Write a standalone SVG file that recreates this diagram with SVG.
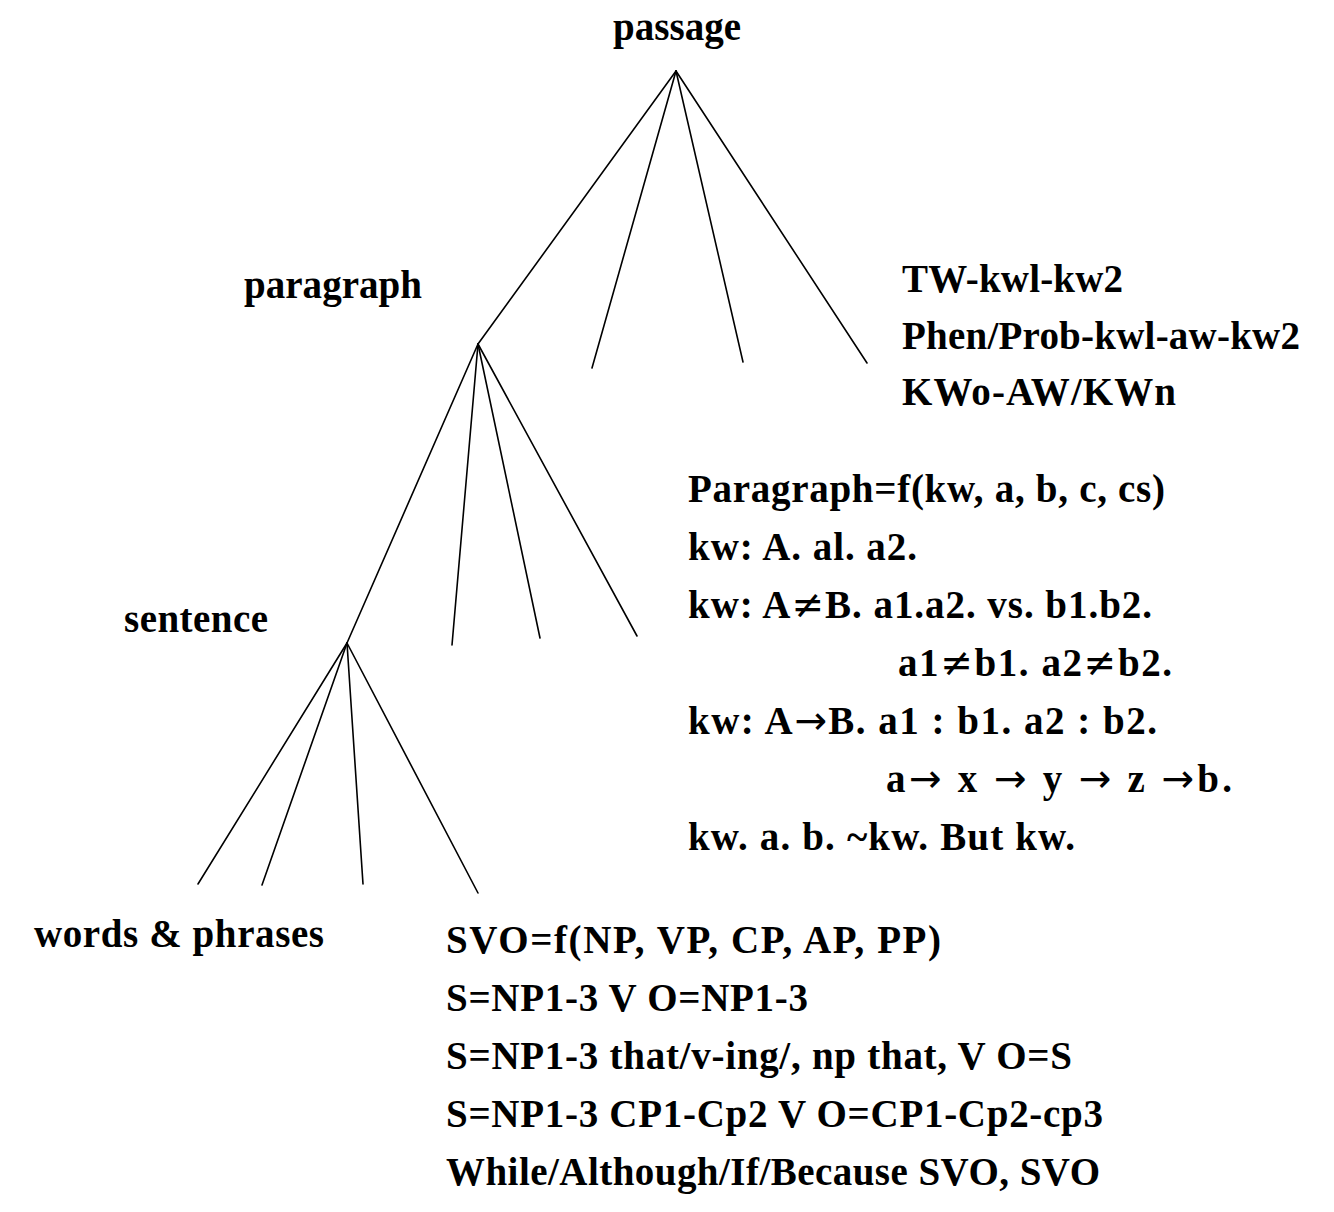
<svg xmlns="http://www.w3.org/2000/svg" width="1334" height="1212" viewBox="0 0 1334 1212">
<style>
.t{font-family:"Liberation Serif","Times New Roman",serif;font-weight:bold;font-size:39px;fill:#000}
.s{font-family:"DejaVu Sans",sans-serif;font-weight:normal}
.e{stroke:#000;stroke-width:1.6;fill:none;stroke-linecap:round}
</style>
<rect width="1334" height="1212" fill="#fff"/>
<g id="connectors">
<line class="e" x1="676" y1="71" x2="478" y2="344"/>
<line class="e" x1="676" y1="71" x2="592" y2="368"/>
<line class="e" x1="676" y1="71" x2="743" y2="362"/>
<line class="e" x1="676" y1="71" x2="867" y2="363"/>
<line class="e" x1="478" y1="344" x2="347" y2="643"/>
<line class="e" x1="478" y1="344" x2="452" y2="645"/>
<line class="e" x1="478" y1="344" x2="540" y2="638"/>
<line class="e" x1="478" y1="344" x2="637" y2="636"/>
<line class="e" x1="347" y1="643" x2="198" y2="884"/>
<line class="e" x1="347" y1="643" x2="262" y2="885"/>
<line class="e" x1="347" y1="643" x2="363" y2="884"/>
<line class="e" x1="347" y1="643" x2="478" y2="893"/>
</g>
<g id="passage"><text class="t" x="613" y="40" textLength="128">passage</text></g>
<g id="paragraph"><text class="t" x="244" y="298" textLength="178">paragraph</text></g>
<g id="sentence"><text class="t" x="124" y="632" textLength="144">sentence</text></g>
<g id="words"><text class="t" x="34" y="947" textLength="290">words &amp; phrases</text></g>
<g id="passage-notes">
<text class="t" x="902" y="292" textLength="221">TW-kwl-kw2</text>
<text class="t" x="902" y="349" textLength="398">Phen/Prob-kwl-aw-kw2</text>
<text class="t" x="902" y="405" textLength="274">KWo-AW/KWn</text>
</g>
<g id="paragraph-notes">
<text class="t" x="688" y="502" textLength="477">Paragraph=f(kw, a, b, c, cs)</text>
<text class="t" x="688" y="560" textLength="229">kw:  A.  al.  a2.</text>
<text class="t" x="688" y="618" textLength="464">kw:  A<tspan class="s">≠</tspan>B.  a1.a2.  vs.  b1.b2.</text>
<text class="t" x="898" y="676" textLength="274">a1<tspan class="s">≠</tspan>b1.  a2<tspan class="s">≠</tspan>b2.</text>
<text class="t" x="688" y="734" textLength="469">kw:  A<tspan class="s">→</tspan>B.  a1  :  b1.  a2  :  b2.</text>
<text class="t" x="886" y="792" textLength="346">a<tspan class="s">→</tspan> x <tspan class="s">→</tspan> y <tspan class="s">→</tspan> z <tspan class="s">→</tspan>b.</text>
<text class="t" x="688" y="850" textLength="387">kw.  a.  b.  ~kw.  But  kw.</text>
</g>
<g id="sentence-notes">
<text class="t" x="446" y="953" textLength="495">SVO=f(NP, VP, CP, AP, PP)</text>
<text class="t" x="446" y="1011" textLength="362">S=NP1-3 V O=NP1-3</text>
<text class="t" x="446" y="1069" textLength="626">S=NP1-3 that/v-ing/, np that, V O=S</text>
<text class="t" x="446" y="1127" textLength="657">S=NP1-3 CP1-Cp2 V O=CP1-Cp2-cp3</text>
<text class="t" x="446" y="1185" textLength="654">While/Although/If/Because SVO, SVO</text>
</g>
</svg>
